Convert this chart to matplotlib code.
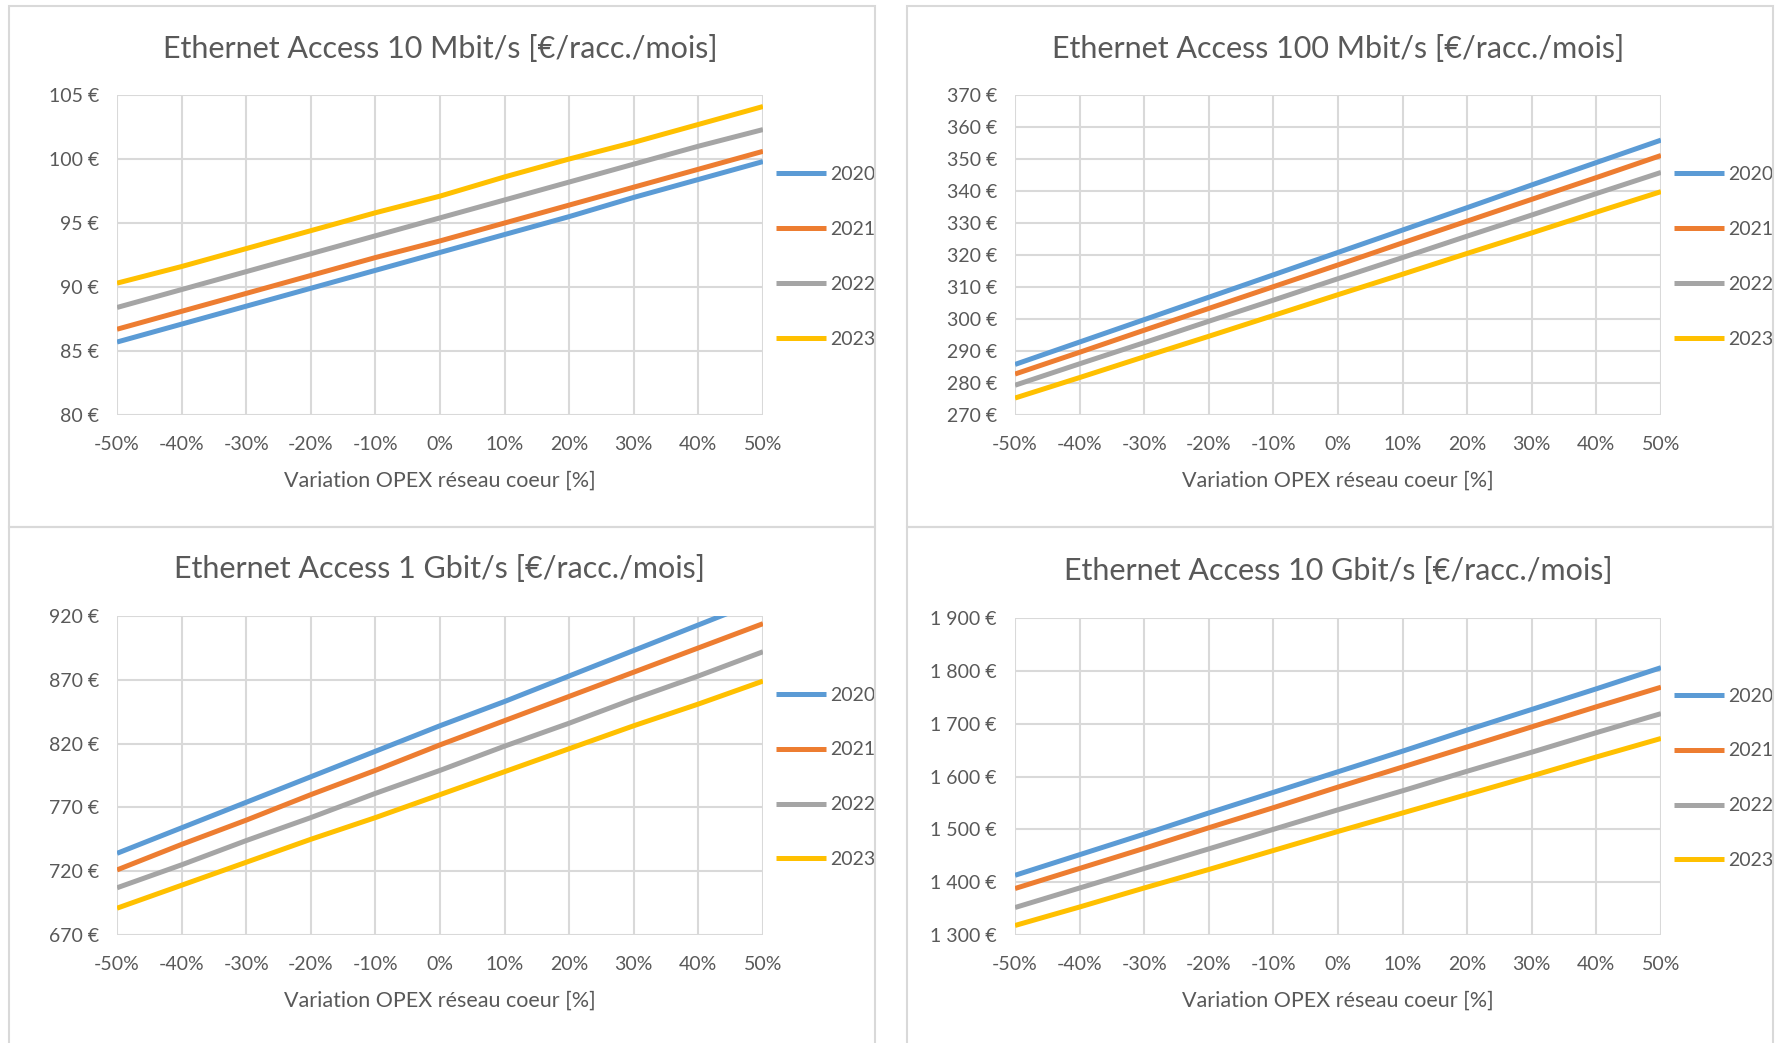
###############################################
### sensibilite OPEX reseau coeur - Ethernet Access
###############################################

import matplotlib
matplotlib.use('Agg')
import matplotlib.pyplot as plt
from matplotlib.patches import Rectangle
from matplotlib.ticker import FuncFormatter

plt.rcParams['font.family'] = ['Lato', 'DejaVu Sans']

########## data
variation = [-50, -40, -30, -20, -10, 0, 10, 20, 30, 40, 50]
years = ['2020', '2021', '2022', '2023']

titles = ['Ethernet Access 10 Mbit/s [€/racc./mois]',
          'Ethernet Access 100 Mbit/s [€/racc./mois]',
          'Ethernet Access 1 Gbit/s [€/racc./mois]',
          'Ethernet Access 10 Gbit/s [€/racc./mois]']

eth_10m = [
    [85.7, 87.1, 88.5, 89.9, 91.3, 92.7, 94.1, 95.5, 97.0, 98.4, 99.8],
    [86.7, 88.1, 89.5, 90.9, 92.3, 93.6, 95.0, 96.4, 97.8, 99.2, 100.6],
    [88.4, 89.8, 91.2, 92.6, 94.0, 95.4, 96.8, 98.2, 99.6, 101.0, 102.3],
    [90.3, 91.6, 93.0, 94.4, 95.8, 97.1, 98.6, 100.0, 101.3, 102.7, 104.1],
]
eth_100m = [
    [285.8, 292.8, 299.8, 306.8, 313.8, 320.8, 327.8, 334.8, 341.9, 348.9, 355.9],
    [282.8, 289.6, 296.5, 303.3, 310.1, 316.9, 323.8, 330.6, 337.4, 344.2, 351.1],
    [279.3, 286.0, 292.6, 299.3, 305.9, 312.6, 319.2, 325.9, 332.5, 339.2, 345.8],
    [275.3, 281.7, 288.2, 294.6, 301.1, 307.6, 314.0, 320.5, 326.9, 333.4, 339.8],
]
eth_1g = [
    [734, 754, 774, 794, 814, 834, 853, 873, 893, 913, 933],
    [721, 741, 760, 780, 799, 819, 838, 857, 876, 895, 914],
    [707, 725, 744, 762, 781, 799, 818, 836, 855, 873, 892],
    [691, 709, 727, 745, 762, 780, 798, 816, 834, 851, 869],
]
eth_10g = [
    [1413, 1452, 1491, 1531, 1570, 1609, 1648, 1688, 1727, 1766, 1806],
    [1388, 1426, 1464, 1503, 1541, 1580, 1618, 1656, 1694, 1732, 1769],
    [1352, 1389, 1426, 1463, 1500, 1537, 1573, 1610, 1646, 1683, 1719],
    [1318, 1353, 1389, 1424, 1460, 1496, 1531, 1566, 1601, 1637, 1672],
]

y_ranges = [(80, 105, 5), (270, 370, 10), (670, 920, 50), (1300, 1900, 100)]

########## style
colors = ['#5B9BD5', '#ED7D31', '#A5A5A5', '#FFC000']
txt_col = '#595959'
grid_col = '#D9D9D9'

W, H = 1778, 1043
fig = plt.figure(figsize=(W/100., H/100.), dpi=100)

## panel frames (pixel coords, top-left origin)
frames = [(9, 6, 875, 527), (907, 6, 1773, 527),
          (9, 527, 875, 1050), (907, 527, 1773, 1050)]
for (x0, y0, x1, y1) in frames:
    fig.patches.append(Rectangle((x0/W, 1 - y1/H), (x1-x0)/W, (y1-y0)/H,
                                 transform=fig.transFigure, fill=False,
                                 edgecolor=grid_col, linewidth=1.5))

## plot areas
axes_px = [(117, 95, 763, 415), (1015, 95, 1661, 415),
           (117, 616, 763, 935), (1015, 618, 1661, 935)]


def euro_fmt(v, pos):
    s = '{:,.0f}'.format(v).replace(',', ' ')
    return s + ' €'


def pct_fmt(v, pos):
    return '{:.0f}%'.format(v)


all_data = [eth_10m, eth_100m, eth_1g, eth_10g]

for k in range(4):
    x0, y0, x1, y1 = axes_px[k]
    ax = fig.add_axes([x0/W, 1 - y1/H, (x1-x0)/W, (y1-y0)/H])
    ymin, ymax, ystep = y_ranges[k]

    for i in range(4):
        ax.plot(variation, all_data[k][i], color=colors[i], lw=3.6,
                label=years[i], solid_capstyle='butt')

    ax.set_xlim(-50, 50)
    ax.set_ylim(ymin, ymax)
    ax.set_xticks(variation)
    ax.set_yticks(range(ymin, ymax + 1, ystep))
    ax.xaxis.set_major_formatter(FuncFormatter(pct_fmt))
    ax.yaxis.set_major_formatter(FuncFormatter(euro_fmt))

    ax.grid(True, color=grid_col, lw=1.5)
    ax.set_axisbelow(True)
    for sp in ax.spines.values():
        sp.set_visible(False)
    ax.tick_params(length=0, labelsize=14, colors=txt_col)
    ax.tick_params(axis='y', pad=13)
    ax.tick_params(axis='x', pad=15)

    ax.set_xlabel('Variation OPEX réseau coeur [%]', fontsize=15.5,
                  color=txt_col, labelpad=13)
    ax.set_title(titles[k], fontsize=22, color=txt_col, pad=27)

    ax.legend(loc='center left', bbox_to_anchor=(1.02, 0.494),
              frameon=False, fontsize=14, labelcolor=txt_col,
              handlelength=2.6, handletextpad=0.2, labelspacing=1.95,
              borderpad=0, borderaxespad=0)

fig.savefig('out.png', dpi=100)
plt.close()
